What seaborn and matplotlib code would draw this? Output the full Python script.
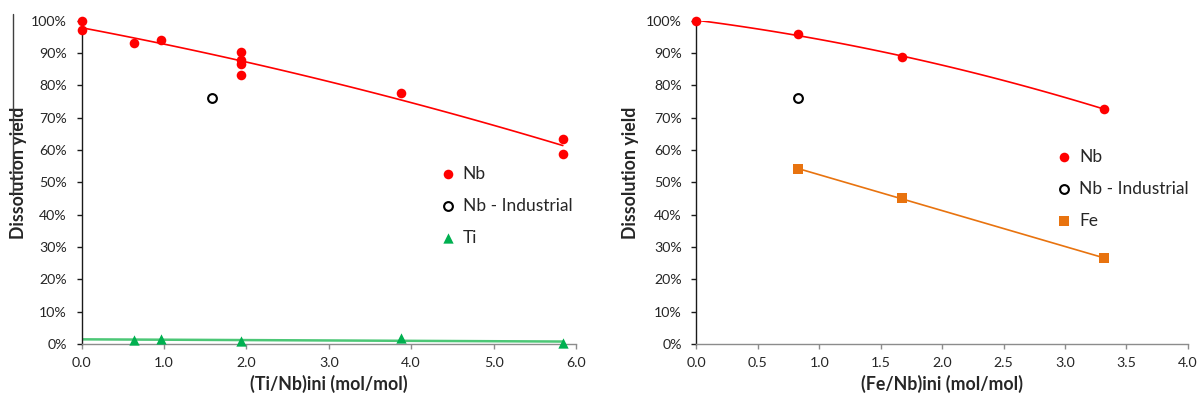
import numpy as np
import pandas as pd
import matplotlib
matplotlib.use("Agg")
import matplotlib.pyplot as plt
from matplotlib.ticker import PercentFormatter, FormatStrFormatter, MultipleLocator
from matplotlib.lines import Line2D
import seaborn as sns

# left panel: (Ti/Nb)ini
ti_nb_x = [0.0, 0.0, 0.64, 0.97, 1.94, 1.94, 1.94, 1.94, 3.88, 5.84, 5.84]
ti_nb_y = [100.0, 97.0, 93.0, 94.0, 90.2, 88.0, 86.5, 83.3, 77.8, 63.3, 58.7]
ti_ind_x = [1.58]
ti_ind_y = [76.2]
ti_x = [0.64, 0.97, 1.94, 3.88, 5.84]
ti_y = [1.2, 1.5, 0.8, 1.9, 0.3]

# right panel: (Fe/Nb)ini
fe_nb_x = [0.0, 0.83, 1.67, 3.32]
fe_nb_y = [100.0, 95.8, 88.8, 72.7]
fe_ind_x = [0.83]
fe_ind_y = [76.2]
fe_x = [0.83, 1.67, 3.32]
fe_y = [54.0, 45.3, 26.5]

RED = "#FF0000"
GREEN = "#00B050"
ORANGE = "#E8730F"
TXT = "#262626"

sns.set_theme(style="white")
plt.rcParams['font.family'] = ['Lato', 'DejaVu Sans']
plt.rcParams['text.color'] = TXT

fig = plt.figure(figsize=(11.99, 4.01), dpi=100)
ax1 = fig.add_axes([0.0680, 0.1421, 0.4124, 0.8062])
ax2 = fig.add_axes([0.5809, 0.1421, 0.4097, 0.8062])

pt = dict(clip_on=False, zorder=4, linewidth=0)

def style_axis(ax, xmax, xstep, xlabel):
    ax.set_xlim(0, xmax)
    ax.set_ylim(0, 100)
    ax.xaxis.set_major_locator(MultipleLocator(xstep))
    ax.xaxis.set_major_formatter(FormatStrFormatter('%.1f'))
    ax.yaxis.set_major_locator(MultipleLocator(10))
    ax.yaxis.set_major_formatter(PercentFormatter(xmax=100, decimals=0))
    for s in ['top', 'right']:
        ax.spines[s].set_visible(False)
    ax.spines['left'].set_color('#1a1a1a')
    ax.spines['bottom'].set_color('#8c8c8c')
    ax.spines['left'].set_linewidth(1.0)
    ax.spines['bottom'].set_linewidth(1.0)
    ax.tick_params(axis='x', bottom=True, direction='out', length=3.5, width=1,
                   color='#8c8c8c', pad=6, labelsize=10.2, labelcolor=TXT)
    ax.tick_params(axis='y', left=True, direction='out', length=3.5, width=1,
                   color='#1a1a1a', pad=7, labelsize=10.2, labelcolor=TXT)
    ax.set_xlabel(xlabel, fontsize=12.8, fontweight='bold', color=TXT)
    ax.set_ylabel('Dissolution yield', fontsize=12.8, fontweight='bold', color=TXT)
    ax.xaxis.set_label_coords(0.5, -0.096)
    ax.grid(False)

# ---- left chart
ax1.set_xlim(0, 5.84)
sns.regplot(x=ti_nb_x, y=ti_nb_y, order=2, ci=None, scatter=False, truncate=True,
            color=RED, line_kws=dict(lw=1.2, zorder=2), ax=ax1)
sns.regplot(x=ti_x, y=ti_y, order=1, ci=None, scatter=False, truncate=False,
            color='#4CC776', line_kws=dict(lw=1.8, zorder=2), ax=ax1)
sns.scatterplot(x=ti_nb_x, y=ti_nb_y, color=RED, s=48, marker='o', label='Nb', ax=ax1, **pt)
sns.scatterplot(x=ti_ind_x, y=ti_ind_y, s=40, marker='o', facecolor='white',
                edgecolor='black', label='Nb - Industrial', ax=ax1, clip_on=False, zorder=4,
                linewidth=1.5)
sns.scatterplot(x=ti_x, y=ti_y, color=GREEN, s=55, marker='^', label='Ti', ax=ax1, **pt)
style_axis(ax1, 6, 1.0, '(Ti/Nb)ini (mol/mol)')
ax1.yaxis.set_label_coords(-0.110, 0.529)

# ---- right chart
sns.regplot(x=fe_nb_x, y=fe_nb_y, order=2, ci=None, scatter=False, truncate=True,
            color=RED, line_kws=dict(lw=1.2, zorder=2), ax=ax2)
sns.regplot(x=fe_x, y=fe_y, order=1, ci=None, scatter=False, truncate=True,
            color=ORANGE, line_kws=dict(lw=1.2, zorder=2), ax=ax2)
sns.scatterplot(x=fe_nb_x, y=fe_nb_y, color=RED, s=48, marker='o', label='Nb', ax=ax2, **pt)
sns.scatterplot(x=fe_ind_x, y=fe_ind_y, s=40, marker='o', facecolor='white',
                edgecolor='black', label='Nb - Industrial', ax=ax2, clip_on=False, zorder=4,
                linewidth=1.5)
sns.scatterplot(x=fe_x, y=fe_y, color=ORANGE, s=48, marker='s', label='Fe', ax=ax2, **pt)
style_axis(ax2, 4, 0.5, '(Fe/Nb)ini (mol/mol)')
ax2.yaxis.set_label_coords(-0.117, 0.529)

# legends
for ax, anchor in [(ax1, (0.3591, 0.4863)), (ax2, (0.8733, 0.5287))]:
    h, l = ax.get_legend_handles_labels()
    ax.legend(h, l, loc='center left', bbox_to_anchor=anchor, bbox_transform=fig.transFigure,
              frameon=False, fontsize=12.5, borderpad=0, handlelength=1.0,
              handletextpad=0.35, labelspacing=0.92, labelcolor=TXT)

# thin stray border line at far left of the original crop
fig.add_artist(Line2D([12.7 / 1199, 12.7 / 1199], [1 - 14 / 401, 1 - 195 / 401],
                      transform=fig.transFigure, color='#404040', lw=1.0))

fig.savefig('out.png', dpi=100)
